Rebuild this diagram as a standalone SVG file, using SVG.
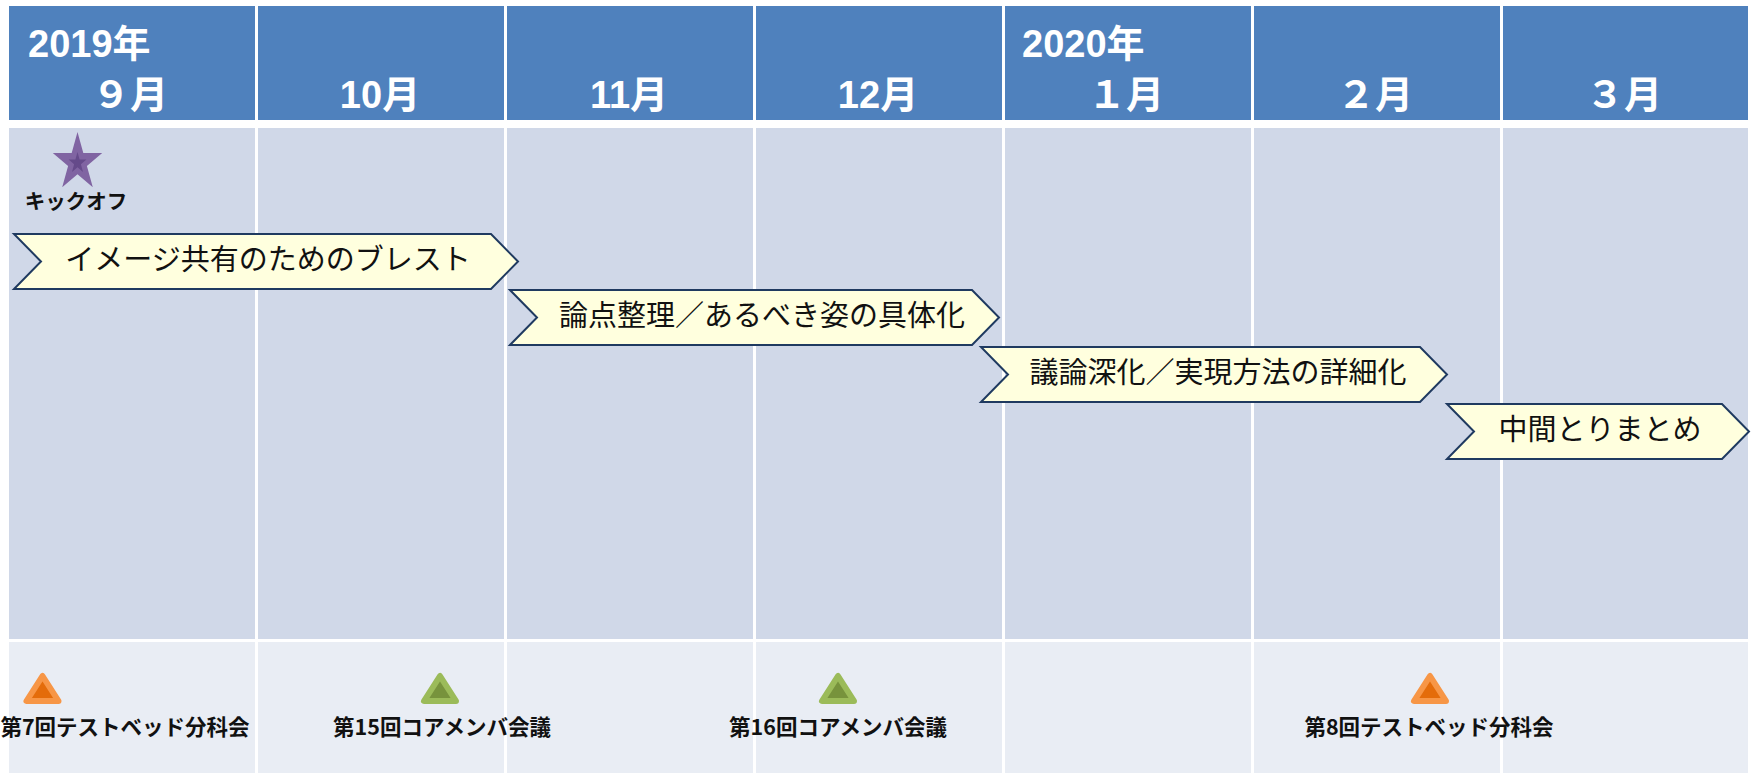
<svg xmlns="http://www.w3.org/2000/svg" width="1754" height="773" viewBox="0 0 1754 773">
  <style>
    .hdr { fill: #4F81BD; }
    .body { fill: #D0D8E8; }
    .foot { fill: #E9EDF4; }
    .htxt { font-family: "Liberation Sans", "Noto Sans CJK JP", sans-serif; font-weight: bold; font-size: 38px; fill: #FFFFFF; }
    .mtxt { text-anchor: middle; }
    .chev { fill: #FFFFDE; stroke: #1F3A60; stroke-width: 2; stroke-linejoin: miter; }
    .ctxt { font-family: "Noto Sans CJK JP", sans-serif; font-size: 29px; fill: #111111; text-anchor: middle; }
    .ltxt { font-family: "Noto Sans CJK JP", sans-serif; font-weight: bold; font-size: 21.5px; fill: #111111; text-anchor: middle; }
    .tri-o { fill: #E46C0A; stroke: #F79646; stroke-width: 6; stroke-linejoin: round; }
    .tri-g { fill: #77933C; stroke: #9BBB59; stroke-width: 6; stroke-linejoin: round; }
  </style>
  <defs>
    <polygon id="tri" points="0,-26 -16,-1 16,-1"/>
  </defs>
  <rect x="0" y="0" width="1754" height="773" fill="#FFFFFF"/>

  <g id="grid">
    <g id="header">
      <rect class="hdr" x="9" y="6" width="246" height="114"/>
      <rect class="hdr" x="258" y="6" width="246" height="114"/>
      <rect class="hdr" x="507" y="6" width="246" height="114"/>
      <rect class="hdr" x="756" y="6" width="246" height="114"/>
      <rect class="hdr" x="1005" y="6" width="246" height="114"/>
      <rect class="hdr" x="1254" y="6" width="246" height="114"/>
      <rect class="hdr" x="1503" y="6" width="245" height="114"/>
    </g>
    <g id="body">
      <rect class="body" x="9" y="128" width="246" height="511"/>
      <rect class="body" x="258" y="128" width="246" height="511"/>
      <rect class="body" x="507" y="128" width="246" height="511"/>
      <rect class="body" x="756" y="128" width="246" height="511"/>
      <rect class="body" x="1005" y="128" width="246" height="511"/>
      <rect class="body" x="1254" y="128" width="246" height="511"/>
      <rect class="body" x="1503" y="128" width="245" height="511"/>
    </g>
    <g id="footer">
      <rect class="foot" x="9" y="642" width="246" height="131"/>
      <rect class="foot" x="258" y="642" width="246" height="131"/>
      <rect class="foot" x="507" y="642" width="246" height="131"/>
      <rect class="foot" x="756" y="642" width="246" height="131"/>
      <rect class="foot" x="1005" y="642" width="246" height="131"/>
      <rect class="foot" x="1254" y="642" width="246" height="131"/>
      <rect class="foot" x="1503" y="642" width="245" height="131"/>
    </g>
  </g>

  <g id="header-labels">
    <text class="htxt" x="28" y="57">2019年</text>
    <text class="htxt mtxt" x="130" y="108">９月</text>
    <text class="htxt mtxt" x="380" y="108">10月</text>
    <text class="htxt mtxt" x="629" y="108">11月</text>
    <text class="htxt mtxt" x="878" y="108">12月</text>
    <text class="htxt" x="1022" y="57">2020年</text>
    <text class="htxt mtxt" x="1126" y="108">１月</text>
    <text class="htxt mtxt" x="1375" y="108">２月</text>
    <text class="htxt mtxt" x="1624" y="108">３月</text>
  </g>

  <g id="kickoff">
    <polygon fill="#8064A2" points="77.5,132 83.3,153.1 102.2,153.1 86.9,166.1 92.8,187.2 77.5,174.2 62.2,187.2 68.1,166.1 52.8,153.1 71.7,153.1"/>
    <polygon fill="#654A8A" points="77.5,152 79.6,159.6 86.4,159.6 80.9,164.3 83,171.9 77.5,167.2 72,171.9 74.1,164.3 68.6,159.6 75.4,159.6"/>
    <text class="ltxt" x="76" y="209" style="font-size:20.5px">キックオフ</text>
  </g>

  <g id="phase1">
    <polygon class="chev" points="14,234 491,234 518,261.5 491,289 14,289 41,261.5"/>
    <text class="ctxt" x="268" y="270">イメージ共有のためのブレスト</text>
  </g>
  <g id="phase2">
    <polygon class="chev" points="510,290 972,290 999,317.5 972,345 510,345 537,317.5"/>
    <text class="ctxt" x="762" y="326">論点整理／あるべき姿の具体化</text>
  </g>
  <g id="phase3">
    <polygon class="chev" points="981,347 1420,347 1447,374.5 1420,402 981,402 1008,374.5"/>
    <text class="ctxt" x="1218" y="383">議論深化／実現方法の詳細化</text>
  </g>
  <g id="phase4">
    <polygon class="chev" points="1447,404 1722,404 1749,431.5 1722,459 1447,459 1474,431.5"/>
    <text class="ctxt" x="1600" y="440">中間とりまとめ</text>
  </g>

  <g id="meeting1">
    <use href="#tri" class="tri-o" x="42.5" y="702"/>
    <text class="ltxt" x="125" y="735">第7回テストベッド分科会</text>
  </g>
  <g id="meeting2">
    <use href="#tri" class="tri-g" x="440" y="702"/>
    <text class="ltxt" x="442" y="735">第15回コアメンバ会議</text>
  </g>
  <g id="meeting3">
    <use href="#tri" class="tri-g" x="838" y="702"/>
    <text class="ltxt" x="838" y="735">第16回コアメンバ会議</text>
  </g>
  <g id="meeting4">
    <use href="#tri" class="tri-o" x="1430" y="702"/>
    <text class="ltxt" x="1429" y="735">第8回テストベッド分科会</text>
  </g>

  <g id="connectors"/>
</svg>
